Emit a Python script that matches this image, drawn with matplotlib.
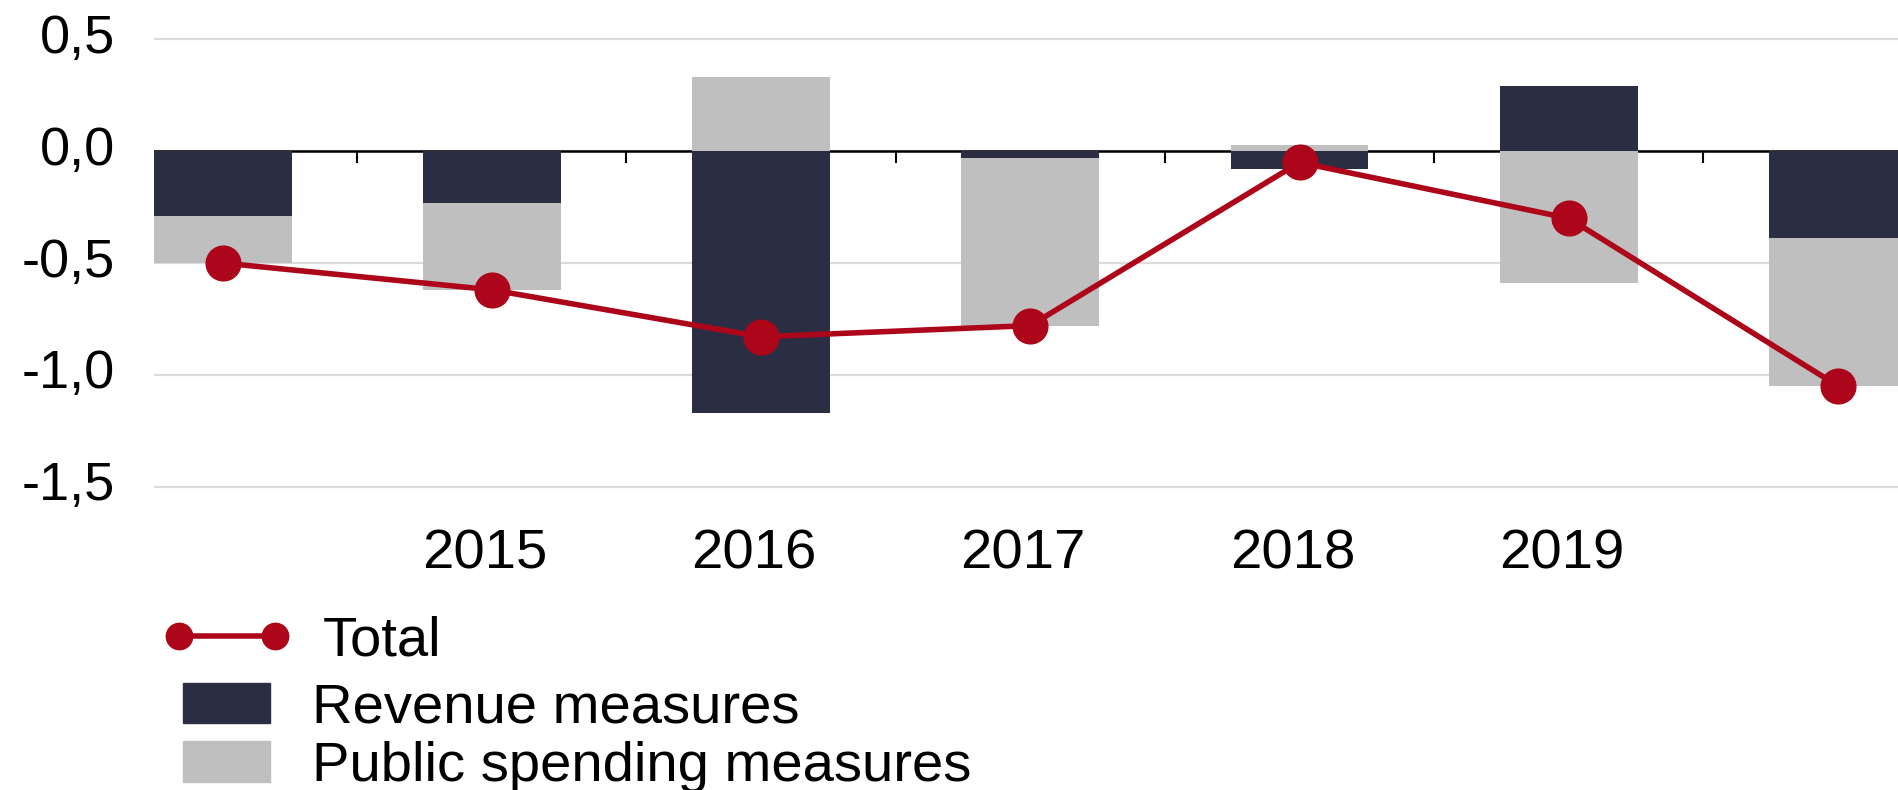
import numpy as np
import matplotlib
matplotlib.use('Agg')
import matplotlib.pyplot as plt
import matplotlib.transforms as mtransforms
from matplotlib.lines import Line2D
from matplotlib.patches import Patch

plt.rcParams['font.family'] = ['Liberation Sans', 'DejaVu Sans']

# data (% of GDP)
years = ['2014', '2015', '2016', '2017', '2018', '2019', '2020']
year_labels = ['', '2015', '2016', '2017', '2018', '2019', '']
revenue = [-0.29, -0.23, -1.17, -0.03, -0.08, 0.29, -0.39]
spending = [-0.21, -0.39, 0.33, -0.75, 0.03, -0.59, -0.66]
total = [-0.50, -0.62, -0.83, -0.78, -0.05, -0.30, -1.05]
yticks = [-1.5, -1.0, -0.5, 0.0, 0.5]

navy = '#2B2E42'
grey = '#BFBFBF'
red = '#AD0519'

W, H = 1898, 790
fig = plt.figure(figsize=(W / 100, H / 100), dpi=100)
ylo, yhi = -1.52, 0.52
ax = fig.add_axes([153.7 / W, 1 - 491 / H, 1 - 153.7 / W, (491 - 35) / H])

x = np.arange(len(years))
rev = np.array(revenue)
spd = np.array(spending)
spd_bottom = np.where(np.sign(spd) == np.sign(rev), rev, 0)

bw = 0.512
ax.bar(x, rev, width=bw, color=navy, zorder=2)
ax.bar(x, spd, width=bw, bottom=spd_bottom, color=grey, zorder=2)
ax.axhline(0, color='black', lw=1.8, zorder=1.5)
ax.plot(x, total, color=red, lw=4, marker='o', ms=25, zorder=5)

ax.set_xlim(-0.256, 6.223)
ax.set_ylim(ylo, yhi)

for s in ax.spines.values():
    s.set_visible(False)

ax.set_yticks(yticks, [f'{v:.1f}'.replace('.', ',') for v in yticks])
ax.grid(axis='y', color='#DCDCDC', lw=1.6, zorder=0)
ax.set_axisbelow(True)
ax.tick_params(axis='y', length=0, pad=28, labelsize=39)
offset = mtransforms.ScaledTranslation(0, 6 / 100, fig.dpi_scale_trans)
for lab in ax.get_yticklabels():
    lab.set_transform(lab.get_transform() + offset)

ax.set_xticks(x, year_labels)
ax.tick_params(axis='x', length=0, pad=27, labelsize=40.5)
xoff = mtransforms.ScaledTranslation(-7 / 100, 0, fig.dpi_scale_trans)
for lab in ax.get_xticklabels():
    lab.set_transform(lab.get_transform() + xoff)

# category boundary ticks pointing down from the zero line
zero_loc = (0 - ylo) / (yhi - ylo)
sec = ax.secondary_xaxis(zero_loc)
sec.set_xticks(x[:-1] + 0.5, [''] * (len(x) - 1))
sec.tick_params(axis='x', direction='in', length=8.5, width=1.5, color='black')
for s in sec.spines.values():
    s.set_visible(False)

h_total = Line2D([], [], color=red, lw=4, marker='o', ms=19)
fig.legend([h_total], ['Total'], loc='center left',
           bbox_to_anchor=(162 / W, 1 - 641.6 / H), frameon=False,
           fontsize=40.5, handlelength=2.3, handletextpad=0.55,
           borderpad=0, borderaxespad=0, numpoints=2)
fig.legend([Patch(color=navy), Patch(color=grey)],
           ['Revenue measures', 'Public spending measures'],
           loc='center left', bbox_to_anchor=(183 / W, 1 - 738 / H),
           frameon=False, fontsize=40.5, handlelength=1.55, handleheight=0.74,
           handletextpad=0.75, labelspacing=0.12, borderpad=0, borderaxespad=0)

fig.savefig('out.png', dpi=100)
